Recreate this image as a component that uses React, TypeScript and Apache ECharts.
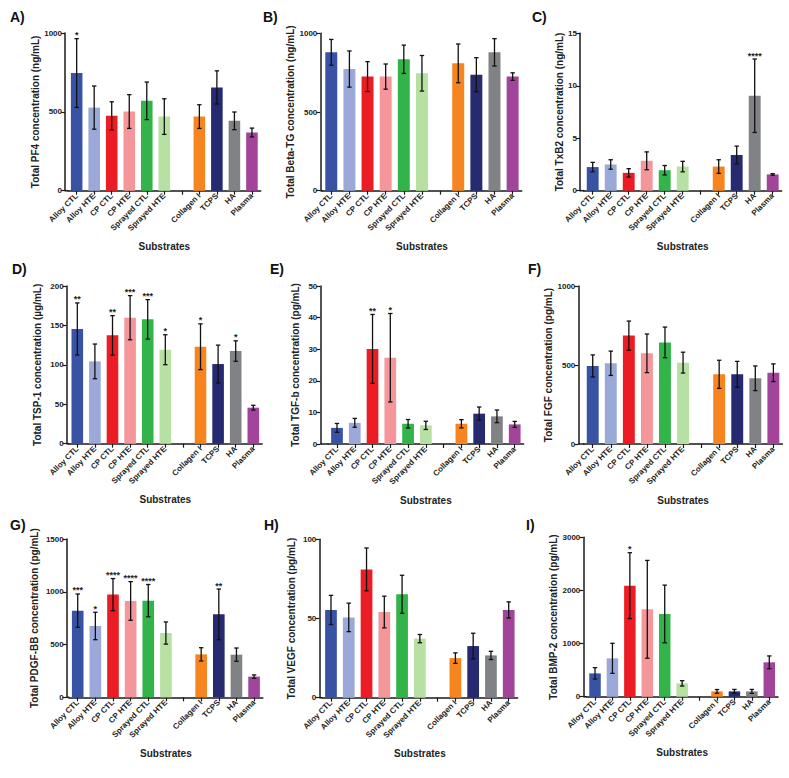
import React, { useEffect, useRef } from "react";
import * as echarts from "echarts";

// ---------- data ----------
const categories = ["Alloy CTL", "Alloy HTE", "CP CTL", "CP HTE", "Sprayed CTL", "Sprayed HTE", "", "Collagen I", "TCPS", "HA", "Plasma"];

const pf4Mean = [746, 527, 475, 502, 570, 470, 470, 655, 443, 369];
const pf4Err = [218, 137, 89, 107, 119, 113, 75, 105, 56, 28];
const pf4Stars = ["*", "", "", "", "", "", "", "", "", ""];

const btgMean = [879, 773, 725, 725, 835, 746, 809, 737, 879, 725];
const btgErr = [82, 115, 95, 80, 90, 113, 123, 108, 87, 24];
const btgStars = ["", "", "", "", "", "", "", "", "", ""];

const txb2Mean = [2.25, 2.5, 1.7, 2.85, 1.95, 2.3, 2.3, 3.4, 9.05, 1.55];
const txb2Err = [0.45, 0.45, 0.4, 0.85, 0.45, 0.5, 0.65, 0.85, 3.5, 0.07];
const txb2Stars = ["", "", "", "", "", "", "", "", "****", ""];

const tspMean = [145.5, 104.4, 137.4, 159.8, 157.7, 119.2, 123, 101, 117.5, 45.7];
const tspErr = [33, 22, 25, 28, 25, 19, 29, 24, 13, 3];
const tspStars = ["**", "", "**", "***", "***", "*", "*", "", "*", ""];

const tgfMean = [5.1, 6.7, 30.1, 27.3, 6.4, 5.9, 6.4, 9.6, 8.75, 6.2];
const tgfErr = [1.4, 1.4, 10.9, 14, 1.35, 1.3, 1.3, 2.1, 2, 0.95];
const tgfStars = ["", "", "**", "*", "", "", "", "", "", ""];

const fgfMean = [494, 511, 686, 574, 643, 515, 441, 441, 416, 451];
const fgfErr = [70, 77, 92, 122, 97, 66, 89, 82, 78, 56];
const fgfStars = ["", "", "", "", "", "", "", "", "", ""];

const pdgfMean = [821, 676, 973, 913, 916, 609, 407, 786, 404, 196];
const pdgfErr = [158, 130, 152, 183, 153, 105, 63, 240, 63, 16];
const pdgfStars = ["***", "*", "****", "****", "****", "", "", "**", "", ""];

const vegfMean = [55.4, 50.7, 81, 54.1, 65.3, 37.3, 25, 32.6, 26.7, 55.4];
const vegfErr = [9.2, 9, 13.5, 10, 12, 2.6, 3.3, 8.1, 2.6, 5.1];
const vegfStars = ["", "", "", "", "", "", "", "", "", ""];

const bmpMean = [439, 722, 2090, 1645, 1557, 251, 100, 100, 100, 647];
const bmpErr = [107, 283, 620, 920, 543, 50, 35, 37, 37, 120];
const bmpStars = ["", "", "*", "", "", "", "", "", "", ""];

const yMax = [1000, 1000, 15, 200, 50, 1000, 1500, 100, 3000];
const yInterval = [500, 500, 5, 50, 10, 500, 500, 50, 1000];
const panelLetters = ["A)", "B)", "C)", "D)", "E)", "F)", "G)", "H)", "I)"];
const yTitles = [
  "Total PF4 concentration (ng/mL)",
  "Total Beta-TG concentration (ng/mL)",
  "Total TxB2 concentration (ng/mL)",
  "Total TSP-1 concentration (\u00b5g/mL)",
  "Total TGF-b concentration (pg/mL)",
  "Total FGF concentration (pg/mL)",
  "Total PDGF-BB concentration (pg/mL)",
  "Total VEGF concentration (pg/mL)",
  "Total BMP-2 concentration (pg/mL)",
];
const xTitle = "Substrates";

// ---------- style / layout ----------
const barColors = ["#3953A4", "#9BA9D8", "#EC1C24", "#F4969A", "#33B44A", "#B6E1A2", "#F6851F", "#262A70", "#808285", "#A1449A"];

// axisX = y-axis line x, left/width = category band, top/y0 = plot top & zero line
const layouts = [
  { axisX: 65, left: 67.9, width: 192.8, top: 33, y0: 190.7, yGap: 25, lx: 10, ly: 10 },
  { axisX: 320.3, left: 322.2, width: 199.5, top: 33.3, y0: 190.7, yGap: 25, lx: 263, ly: 10 },
  { axisX: 580, left: 583.7, width: 198, top: 33.3, y0: 190.7, yGap: 16, lx: 532, ly: 10 },
  { axisX: 66.7, left: 68.5, width: 193.6, top: 286, y0: 443.7, yGap: 24, lx: 12, ly: 262 },
  { axisX: 320.3, left: 328.1, width: 195.5, top: 286, y0: 444, yGap: 20, lx: 270, ly: 262 },
  { axisX: 578.3, left: 583.7, width: 198.7, top: 286, y0: 444, yGap: 23, lx: 528, ly: 262 },
  { axisX: 66.7, left: 68.9, width: 194, top: 539, y0: 697.3, yGap: 27, lx: 10, ly: 518 },
  { axisX: 319.3, left: 322.1, width: 195.5, top: 539.3, y0: 697.7, yGap: 23, lx: 264, ly: 518 },
  { axisX: 583.3, left: 586.3, width: 191.7, top: 537.3, y0: 696.7, yGap: 25, lx: 526, ly: 518 },
];

const FONT = "'Liberation Sans', Arial, Helvetica, sans-serif";
const AXIS = "#1a1a1a";

const means = [pf4Mean, btgMean, txb2Mean, tspMean, tgfMean, fgfMean, pdgfMean, vegfMean, bmpMean];
const errs = [pf4Err, btgErr, txb2Err, tspErr, tgfErr, fgfErr, pdgfErr, vegfErr, bmpErr];
const stars = [pf4Stars, btgStars, txb2Stars, tspStars, tgfStars, fgfStars, pdgfStars, vegfStars, bmpStars];

// map the 10 substrates into the 11 category slots (slot 6 is the gap)
const slotOf = (i: number) => (i < 6 ? i : i + 1);

function buildOption() {
  const grid: any[] = [];
  const xAxis: any[] = [];
  const yAxis: any[] = [];
  const series: any[] = [];
  const graphic: any[] = [];

  layouts.forEach((L, p) => {
    grid.push({ left: L.left, top: L.top, width: L.width, height: L.y0 - L.top, containLabel: false });
    xAxis.push({
      type: "category",
      gridIndex: p,
      data: categories,
      axisLine: { show: true, lineStyle: { color: AXIS, width: 1.5 } },
      axisTick: { show: true, alignWithLabel: true, length: 4, lineStyle: { color: AXIS, width: 1.2 } },
      axisLabel: { interval: 0, rotate: 45, fontSize: 8, fontWeight: "bold", color: "#222", fontFamily: FONT, margin: 4 },
      name: xTitle,
      nameLocation: "middle",
      nameGap: 51,
      nameTextStyle: { fontSize: 10, fontWeight: "bold", color: "#222", fontFamily: FONT },
      splitLine: { show: false },
    });
    yAxis.push({
      type: "value",
      gridIndex: p,
      min: 0,
      max: yMax[p],
      interval: yInterval[p],
      offset: L.left - L.axisX,
      axisLine: { show: true, lineStyle: { color: AXIS, width: 1.5 } },
      axisTick: { show: true, length: 4, lineStyle: { color: AXIS, width: 1.2 } },
      axisLabel: {
        fontSize: 8,
        fontWeight: "bold",
        color: "#222",
        fontFamily: FONT,
        margin: 3,
        formatter: (v: number) => String(v),
      },
      splitLine: { show: false },
      name: yTitles[p],
      nameLocation: "middle",
      nameGap: L.yGap,
      nameTextStyle: { fontSize: 10, fontWeight: "bold", color: "#222", fontFamily: FONT },
    });

    const barData: any[] = categories.map(() => null);
    means[p].forEach((v, i) => {
      barData[slotOf(i)] = { value: v, itemStyle: { color: barColors[i] } };
    });
    series.push({
      type: "bar",
      xAxisIndex: p,
      yAxisIndex: p,
      data: barData,
      barWidth: "66%",
      itemStyle: { borderWidth: 0 },
      z: 2,
    });

    const errData = means[p].map((v, i) => [slotOf(i), v - errs[p][i], v + errs[p][i]]);
    const starArr = stars[p];
    series.push({
      type: "custom",
      xAxisIndex: p,
      yAxisIndex: p,
      data: errData,
      encode: { x: 0, y: [1, 2] },
      z: 5,
      renderItem: (params: any, api: any) => {
        const x = api.value(0);
        const lo = api.value(1);
        const hi = api.value(2);
        const pt = api.coord([x, hi]);
        const pb = api.coord([x, lo]);
        const cx = pt[0];
        const w = 2.2;
        const st = { stroke: "#111", lineWidth: 1.3 };
        const children: any[] = [
          { type: "line", shape: { x1: cx, y1: pt[1], x2: cx, y2: pb[1] }, style: st },
          { type: "line", shape: { x1: cx - w, y1: pt[1], x2: cx + w, y2: pt[1] }, style: st },
          { type: "line", shape: { x1: cx - w, y1: pb[1], x2: cx + w, y2: pb[1] }, style: st },
        ];
        const s = starArr[params.dataIndex];
        if (s) {
          children.push({
            type: "text",
            style: {
              text: s,
              x: cx,
              y: pt[1] + 1,
              align: "center",
              verticalAlign: "bottom",
              font: `bold 9px ${FONT}`,
              fill: "#222",
            },
          });
        }
        return { type: "group", children };
      },
    });

    // close the corner between the y-axis line and the start of the category band
    graphic.push({
      type: "line",
      shape: { x1: L.axisX, y1: L.y0, x2: L.left + 0.5, y2: L.y0 },
      style: { stroke: AXIS, lineWidth: 1.5 },
      z: 10,
    });
    graphic.push({
      type: "text",
      left: L.lx,
      top: L.ly,
      style: { text: panelLetters[p], font: `bold 14px ${FONT}`, fill: "#111" },
    });
  });

  return {
    animation: false,
    backgroundColor: "#ffffff",
    textStyle: { fontFamily: FONT },
    grid,
    xAxis,
    yAxis,
    series,
    graphic,
  };
}

export default function App() {
  const ref = useRef<HTMLDivElement>(null);
  useEffect(() => {
    if (!ref.current) return;
    const chart = echarts.init(ref.current, undefined, { renderer: "svg" });
    chart.setOption(buildOption() as any);
    return () => chart.dispose();
  }, []);
  return (
    <div
      ref={ref}
      style={{ position: "absolute", left: 0, top: 0, width: 789, height: 778, background: "#fff" }}
    />
  );
}
